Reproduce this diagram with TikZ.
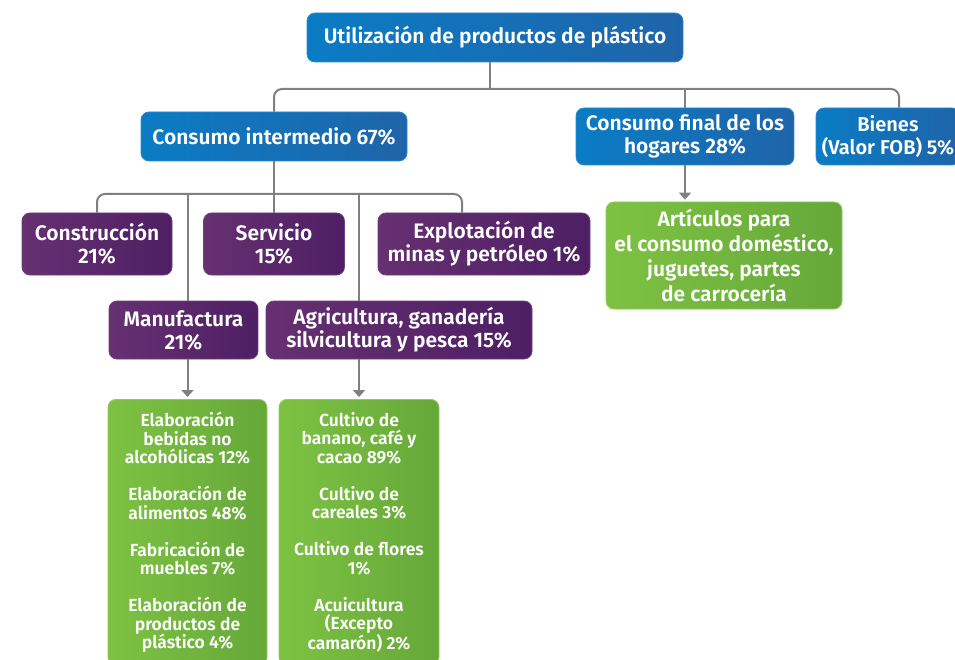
\documentclass[tikz,border=0pt]{standalone}
\usepackage{fontspec}
\setmainfont{Fira Sans}[BoldFont={Fira Sans SemiBold}]
\usetikzlibrary{arrows.meta}
\definecolor{azulA}{HTML}{0A7CC5}
\definecolor{azulB}{HTML}{1F64A9}
\definecolor{azulC}{HTML}{2A8AD2}
\definecolor{moradoA}{HTML}{663071}
\definecolor{moradoB}{HTML}{4E1F64}
\definecolor{moradoC}{HTML}{70407A}
\definecolor{verdeA}{HTML}{7EC243}
\definecolor{verdeB}{HTML}{66A839}
\definecolor{verdeC}{HTML}{8FCC58}
\definecolor{linea}{HTML}{808080}
\begin{document}
\begin{tikzpicture}[x=1pt,y=-1pt]
        \tikzstyle{uso}=[rounded corners=8pt,draw=azulC,line width=0.8pt,left color=azulA,right color=azulB,text=white,font=\bfseries\fontsize{21}{23}\selectfont,align=center,inner sep=0pt]
        \tikzstyle{rama}=[rounded corners=8pt,draw=moradoC,line width=0.8pt,left color=moradoA,right color=moradoB,text=white,font=\bfseries\fontsize{21}{23}\selectfont,align=center,inner sep=0pt]
        \tikzstyle{detalle}=[rounded corners=8pt,draw=verdeC,line width=0.8pt,left color=verdeA,right color=verdeB,text=white,font=\bfseries\fontsize{17.5}{18.5}\selectfont,align=center,inner sep=0pt]
        \tikzstyle{link}=[draw=linea,line width=2pt,rounded corners=8pt]
        \tikzstyle{flecha}=[draw=linea,line width=2pt,-{Triangle[width=12pt,length=7pt]},shorten >=2pt]
        \useasboundingbox (0,0) rectangle (955,660);
        % niveles superiores
        \node [uso,minimum width=376pt,minimum height=49pt] (top) at (495,37.5) {Utilización de productos de plástico};
        \node [uso,minimum width=266pt,minimum height=49pt] (ci) at (274,136.5) {Consumo intermedio 67\%};
        \node [uso,minimum width=218pt,minimum height=57pt] (cf) at (685,136.5) {Consumo final de los\\hogares 28\%};
        \node [uso,minimum width=144pt,minimum height=57pt,font=\bfseries\fontsize{20}{23}\selectfont] (bienes) at (888,136.5) {Bienes\\(Valor FOB) 5\%};
        \node [detalle,minimum width=236pt,minimum height=107pt,font=\bfseries\fontsize{21}{25}\selectfont] (art) at (724,255.5) {Artículos para\\el consumo doméstico,\\juguetes, partes\\de carrocería};
        % sectores
        \node [rama,minimum width=150pt,minimum height=62pt] (constr) at (97,244) {Construcción\\21\%};
        \node [rama,minimum width=141pt,minimum height=62pt] (serv) at (274,244) {Servicio\\15\%};
        \node [rama,minimum width=212pt,minimum height=62pt] (explo) at (484,244) {Explotación de\\minas y petróleo 1\%};
        \node [rama,minimum width=149pt,minimum height=58pt] (manu) at (183.5,330) {Manufactura\\21\%};
        \node [rama,minimum width=266pt,minimum height=58pt] (agri) at (399,330) {Agricultura, ganadería\\silvicultura y pesca 15\%};
        % detalle
        \node [detalle,minimum width=159pt,minimum height=266pt,anchor=north] (g1) at (187.5,399) {Elaboración\\bebidas no\\alcohólicas 12\%\\[18.5pt]Elaboración de\\alimentos 48\%\\[18.5pt]Fabricación de\\muebles 7\%\\[18.5pt]Elaboración de\\productos de\\plástico 4\%};
        \node [detalle,minimum width=160pt,minimum height=266pt,anchor=north] (g2) at (359,399) {Cultivo de\\banano, café y\\cacao 89\%\\[18.5pt]Cultivo de\\careales 3\%\\[18.5pt]Cultivo de flores\\1\%\\[18.5pt]Acuicultura\\(Excepto\\camarón) 2\%};
        \coordinate (bus1) at (490,89);
        \coordinate (bienesdrop) at (899,89);
        \coordinate (bus2) at (274,194);
        \coordinate (explodrop) at (462,194);
        \path[link] (top.south -| bus1) -- (bus1);
        \path[link] (ci.north) |- (bienesdrop) -- (bienesdrop |- bienes.north);
        \path[link] (cf.north |- bus1) -- (cf.north);
        \path[flecha] (cf.south) -- (cf.south |- art.north);
        \path[link] (ci.south) -- (serv.north);
        \path[link] (constr.north) |- (explodrop) -- (explodrop |- explo.north);
        \path[link] (g1.north |- bus2) -- (manu.north -| g1.north);
        \path[link] (g2.north |- bus2) -- (agri.north -| g2.north);
        \path[flecha] (manu.south -| g1.north) -- (g1.north);
        \path[flecha] (agri.south -| g2.north) -- (g2.north);
\end{tikzpicture}
\end{document}
